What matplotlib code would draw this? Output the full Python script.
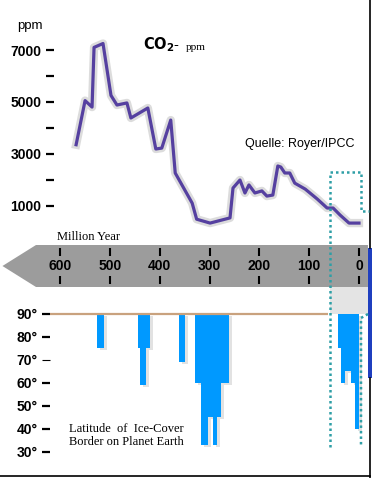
import matplotlib
matplotlib.use("Agg")
import matplotlib.pyplot as plt
from matplotlib.patches import Polygon, Rectangle
from matplotlib.transforms import offset_copy

plt.rcParams['font.family'] = ['Liberation Sans', 'DejaVu Sans']

# CO2 curve (million years ago, ppm)
co2_age = [568, 550, 536, 532, 514, 498, 486, 466, 458, 424, 408, 396, 378, 369,
           335, 326, 299, 259, 253, 239, 229, 221, 209, 195, 185, 173, 163, 157,
           149, 139, 129, 108, 84, 64, 52, 38, 20, 0]
co2_ppm = [3350, 5050, 4800, 7100, 7250, 5250, 4880, 4960, 4380, 4765, 3185, 3220, 4300, 2260,
           1100, 480, 330, 530, 1680, 1990, 1490, 1800, 1490, 1570, 1370, 1410, 2530, 2490,
           2260, 2260, 1870, 1640, 1260, 910, 910, 640, 330, 330]
ppm_ticks = [1000, 2000, 3000, 4000, 5000, 6000, 7000]
ppm_labels = ['1000', '', '3000', '', '5000', '', '7000']

# ice cover border: time span (start, end in Ma) and latitude reached
ice_start = [526, 444, 440, 428, 361, 329, 317, 303, 293, 285, 277, 42, 36, 28, 16, 8]
ice_end = [512, 440, 428, 420, 349, 317, 303, 293, 285, 277, 261, 36, 28, 16, 8, 0]
ice_lat = [75, 75, 59, 75, 69, 60, 33, 45, 33, 45, 60, 75, 60, 65, 60, 40]
lat_ticks = [30, 40, 50, 60, 70, 80, 90]
lat_labels = ['30°', '40°', '50°', '60°', '70°', '80°', '90°']

time_ticks = [600, 500, 400, 300, 200, 100, 0]

W, H = 372, 478
fig = plt.figure(figsize=(W / 100, H / 100), dpi=100)


def px_axes(x0, y0, x1, y1):
    return fig.add_axes([x0 / W, 1 - y1 / H, (x1 - x0) / W, (y1 - y0) / H])


bg = px_axes(0, 0, W, H)
bg.set_xlim(0, W)
bg.set_ylim(H, 0)
bg.axis('off')
bg.add_patch(Rectangle((330, 287), 38, 27, color='#E4E4E4', lw=0))
bg.text(57, 237, 'Million Year', family='Liberation Serif', fontsize=9, va='center')
bg.text(17, 26, 'ppm', fontsize=9.5, va='center')
bg.text(143, 45, r'$\mathbf{CO_2}$-', fontsize=10.5, va='center')
bg.text(186, 47, 'ppm', family='Liberation Serif', fontsize=8, va='center')
bg.text(245, 144, 'Quelle: Royer/IPCC', fontsize=9, va='center')

# CO2 panel
ax1 = px_axes(54, 0, 372, 240)
ax1.patch.set_alpha(0)
ax1.set_xlim(612.4, -26.1)
ax1.set_ylim(-322, 8927)
ax1.plot(co2_age, co2_ppm, color='#DCDCDC', lw=6, solid_joinstyle='round')
ax1.plot(co2_age, co2_ppm, color='#5540A0', lw=2.3, solid_joinstyle='round')
ax1.set_yticks(ppm_ticks)
ax1.set_yticklabels(ppm_labels, fontweight='bold')
ax1.set_xticks([])
for s in ax1.spines.values():
    s.set_visible(False)
ax1.tick_params(axis='y', length=6, width=1.6, pad=3, labelsize=10)

# time arrow
axm = px_axes(0, 245, W, 287)
axm.set_xlim(720.9, -26.1)
axm.set_ylim(1, 0)
axm.axis('off')
axm.add_patch(Polygon([(716, 0.5), (648.6, 0), (-18, 0), (-18, 1), (648.6, 1)],
                      closed=True, color='#9C9C9C', lw=0))
axm.vlines(time_ticks, 0.07, 0.25, color='black', lw=1.5)
axm.vlines(time_ticks, 0.74, 0.92, color='black', lw=1.5)
for t in time_ticks:
    axm.text(t, 0.5, str(t), ha='center', va='center', fontsize=10, fontweight='bold')

# ice cover panel
ax2 = px_axes(50, 287, 372, 478)
ax2.patch.set_alpha(0)
ax2.set_xlim(620.5, -26.1)
ax2.set_ylim(18.7, 101.7)
centers = [(a + b) / 2 for a, b in zip(ice_start, ice_end)]
widths = [a - b for a, b in zip(ice_start, ice_end)]
heights = [90 - l for l in ice_lat]
shadow = offset_copy(ax2.transData, fig=fig, x=3, y=-2, units='dots')
ax2.bar(centers, heights, widths, bottom=ice_lat, color='#E2E2E2', lw=0, transform=shadow)
ax2.bar(centers, heights, widths, bottom=ice_lat, color='#0099FF', lw=0)
ax2.hlines(90, 620.5, 62, color='#C9A27E', lw=1.6)
ax2.set_yticks(lat_ticks)
ax2.set_yticklabels(lat_labels, fontweight='bold')
ax2.set_xticks([])
for s in ax2.spines.values():
    s.set_visible(False)
ax2.tick_params(axis='y', length=6, width=1.6, pad=3, labelsize=10)
ax2.yaxis.get_major_ticks()[4].tick1line.set_markeredgewidth(0.8)
ax2.text(582, 40.2, 'Latitude  of  Ice-Cover', family='Liberation Serif', fontsize=9, va='center')
ax2.text(582, 34.2, 'Border on Planet Earth', family='Liberation Serif', fontsize=9, va='center')

# frame pieces and dotted inset marker
top = px_axes(0, 0, W, H)
top.patch.set_alpha(0)
top.set_xlim(0, W)
top.set_ylim(H, 0)
top.axis('off')
top.plot([370, 370], [0, 248], color='black', lw=1.2)
top.add_patch(Rectangle((368, 248), 4, 130, color='#1F3FBF', lw=0))
top.plot([370, 370], [378, 478], color='black', lw=1.2)
top.plot([0, 370], [476, 476], color='black', lw=1.2)
dot = dict(color='#2E9FA6', lw=1.8, linestyle=(0, (1, 1.2)))
top.plot([330, 330, 361, 361, 369], [447, 172, 172, 211, 211], **dot)
top.plot([368, 361, 361], [314, 318, 447], **dot)

fig.savefig('out.png', dpi=100)
